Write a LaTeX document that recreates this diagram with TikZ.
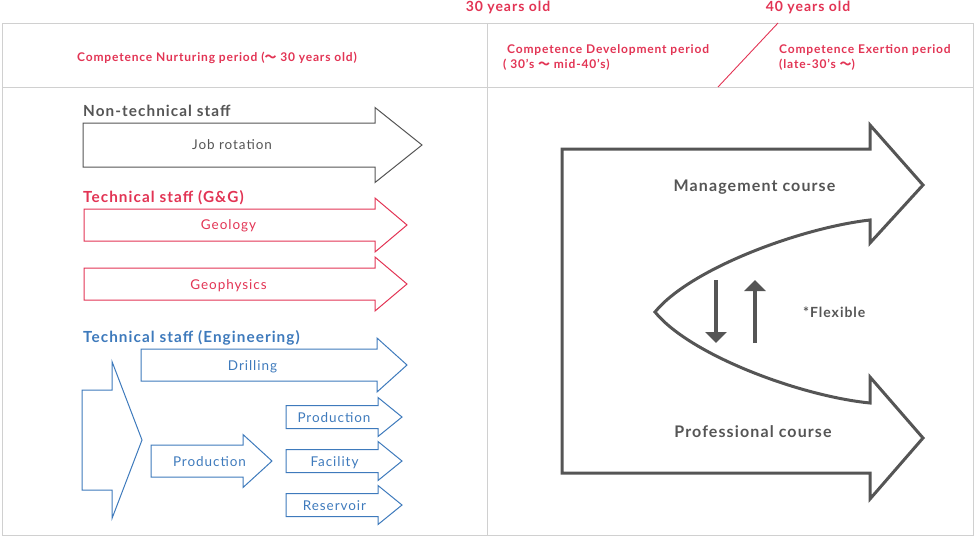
\documentclass[tikz,border=0pt]{standalone}
\usepackage{fontspec}
\setmainfont{Lato}[LetterSpace=7]
\newfontfamily\cjk{Noto Sans CJK JP}
\usetikzlibrary{arrows.meta}

\definecolor{jred}{RGB}{226,52,84}
\definecolor{jblue}{RGB}{62,122,188}
\definecolor{jgray}{RGB}{85,85,85}
\definecolor{jframe}{RGB}{208,208,208}

\newcommand{\wave}{{\cjk 〜}}
% block arrow: [style]{left}{head base}{tip}{centre y}{body half}{head half}
\newcommand{\blockarrow}[7][]{%
  \draw[line width=1pt, #1] (#2,#5-#6) -- (#3,#5-#6) -- (#3,#5-#7) -- (#4,#5)
    -- (#3,#5+#7) -- (#3,#5+#6) -- (#2,#5+#6) -- cycle;}

\begin{document}
\begin{tikzpicture}[x=1pt, y=-1pt, inner sep=0pt,
  period/.style={font=\fontsize{12}{14}\selectfont\bfseries, text=jred},
  age/.style={font=\fontsize{14}{16}\selectfont\bfseries, text=jred},
  staff/.style={font=\fontsize{15.3}{17}\selectfont\bfseries},
  lab/.style={font=\fontsize{13.5}{15}\selectfont},
  course/.style={font=\fontsize{16}{18}\selectfont\bfseries, text=jgray},
  updown/.style={jgray, line width=4pt, -{Triangle[width=21pt,length=11pt]}}]
\useasboundingbox (0,0) rectangle (974,536);

% frame
\draw[jframe, line width=1pt] (2,23) rectangle (973,535);
\draw[jframe, line width=1pt] (2,87) -- (973,87);
\draw[jframe, line width=1pt] (487,23) -- (487,535);
\draw[jred, line width=0.9pt] (778,23) -- (718,87);

% ages and periods
\node[age, anchor=base] (y30) at (508,11) {30 years old};
\node[age, anchor=base] (y40) at (808,11) {40 years old};
\node[period, anchor=base west] (nurt) at (77,61) {Competence Nurturing period (\wave\ 30 years old)};
\node[period, anchor=base west] (dev) at (507,53) {Competence Development period};
\node[period, anchor=base west] (devb) at (503,68) {( 30's \wave\ mid-40's)};
\node[period, anchor=base west] (exer) at (779,53) {Competence Exertion period};
\node[period, anchor=base west] (exerb) at (779,68) {(late-30's \wave)};

% non-technical staff
\node[staff, text=jgray, anchor=base west] (nontech) at (83,116) {Non-technical staff};
\blockarrow[jgray]{83}{375}{422}{145}{22}{37.5}
\node[lab, text=jgray, anchor=base] (job) at (232,149) {Job rotation};

% technical staff (G&G)
\node[staff, text=jred, anchor=base west] (gg) at (83,202) {Technical staff (G\&G)};
\blockarrow[jred]{84}{375}{407}{225}{16}{27}
\blockarrow[jred]{84}{375}{407}{284}{16}{27}
\node[lab, text=jred, anchor=base] (geol) at (228.5,229) {Geology};
\node[lab, text=jred, anchor=base] (geoph) at (228.5,289) {Geophysics};

% technical staff (engineering)
\node[staff, text=jblue, anchor=base west] (eng) at (83,342) {Technical staff (Engineering)};
\blockarrow[jblue]{141}{377}{407}{365}{16}{27}
\blockarrow[jblue]{82}{112}{142}{440}{50}{78.5}
\blockarrow[jblue]{151}{243}{272}{461}{16}{26.5}
\blockarrow[jblue]{286}{378}{402}{417}{11.5}{19.5}
\blockarrow[jblue]{286}{378}{402}{461}{11.5}{19.5}
\blockarrow[jblue]{286}{378}{402}{505}{11.5}{19.5}
\node[lab, text=jblue, anchor=base] (drill) at (252.5,370) {Drilling};
\node[lab, text=jblue, anchor=base] (prod) at (209.5,466) {Production};
\node[lab, text=jblue, anchor=base] (prodb) at (334,422) {Production};
\node[lab, text=jblue, anchor=base] (fac) at (334.5,466) {Facility};
\node[lab, text=jblue, anchor=base] (res) at (334.5,510) {Reservoir};

% career courses
\draw[jgray, line width=3pt, line join=miter]
  (870,220) -- (870,243) -- (923,185) -- (870,125) -- (870,149) -- (562,149)
  -- (562,473) -- (870,473) -- (870,499) -- (923,438) -- (870,377) -- (870,403)
  .. controls (800,396) and (690,355) .. (655,312)
  .. controls (690,269) and (800,228) .. (870,220) -- cycle;
\node[course, anchor=base] (mgmt) at (754.5,191) {Management course};
\node[course, anchor=base] (prof) at (753,437) {Professional course};

\coordinate (d1) at (716,280);
\coordinate (d2) at (716,343);
\coordinate (u1) at (755,343);
\coordinate (u2) at (755,280);
\draw[updown] (d1) -- (d2);
\draw[updown] (u1) -- (u2);
\node[lab, text=jgray, font=\fontsize{14}{16}\selectfont\bfseries, anchor=base west] (flex) at (803,317) {*Flexible};
\end{tikzpicture}
\end{document}
